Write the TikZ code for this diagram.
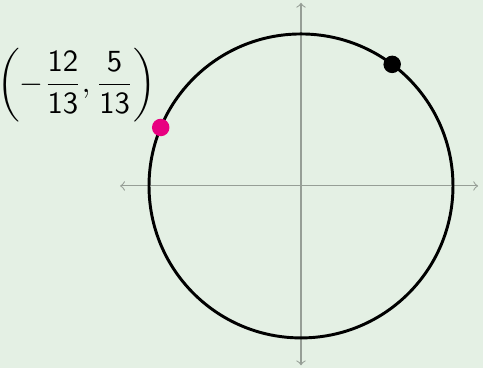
\documentclass[tikz,border=0pt]{standalone}
\usepackage{amsmath}
\definecolor{bgGreen}{RGB}{228,240,228}
\definecolor{dotPink}{RGB}{232,0,128}
\definecolor{axisGray}{RGB}{150,158,150}
\begin{document}
\begin{tikzpicture}[every node/.style={scale=1.15}]
    \tikzset{dot/.style={circle, fill=#1, inner sep=0pt, minimum size=0.2cm}}
    % Pozadi
    \fill[bgGreen] (-3.961,-2.395) rectangle (2.395,2.447);
    \useasboundingbox (-3.961,-2.395) rectangle (2.395,2.447);

    % Osy
    \coordinate (xl) at (-2.38,0);
    \coordinate (xr) at (2.33,0);
    \coordinate (yb) at (0,-2.36);
    \coordinate (yt) at (0,2.41);
    \draw[<->, axisGray, line width=0.4pt] (xl) -- (xr);
    \draw[<->, axisGray, line width=0.4pt] (yb) -- (yt);

    % Jednotkova kruznice
    \coordinate (O) at (0,0);
    \draw[line width=1.1pt] (O) circle (2);

    % Body na kruznici
    \node[dot=black] (Q) at (53.13:2) {};
    \node[dot=dotPink] (P) at (157.38:2) {};

    % Popisek bodu P
    \node (lbl) at (-2.95,1.33)
        {$\left(-\dfrac{\mathsf{12}}{\mathsf{13}},\dfrac{\mathsf{5}}{\mathsf{13}}\right)$};
\end{tikzpicture}
\end{document}
